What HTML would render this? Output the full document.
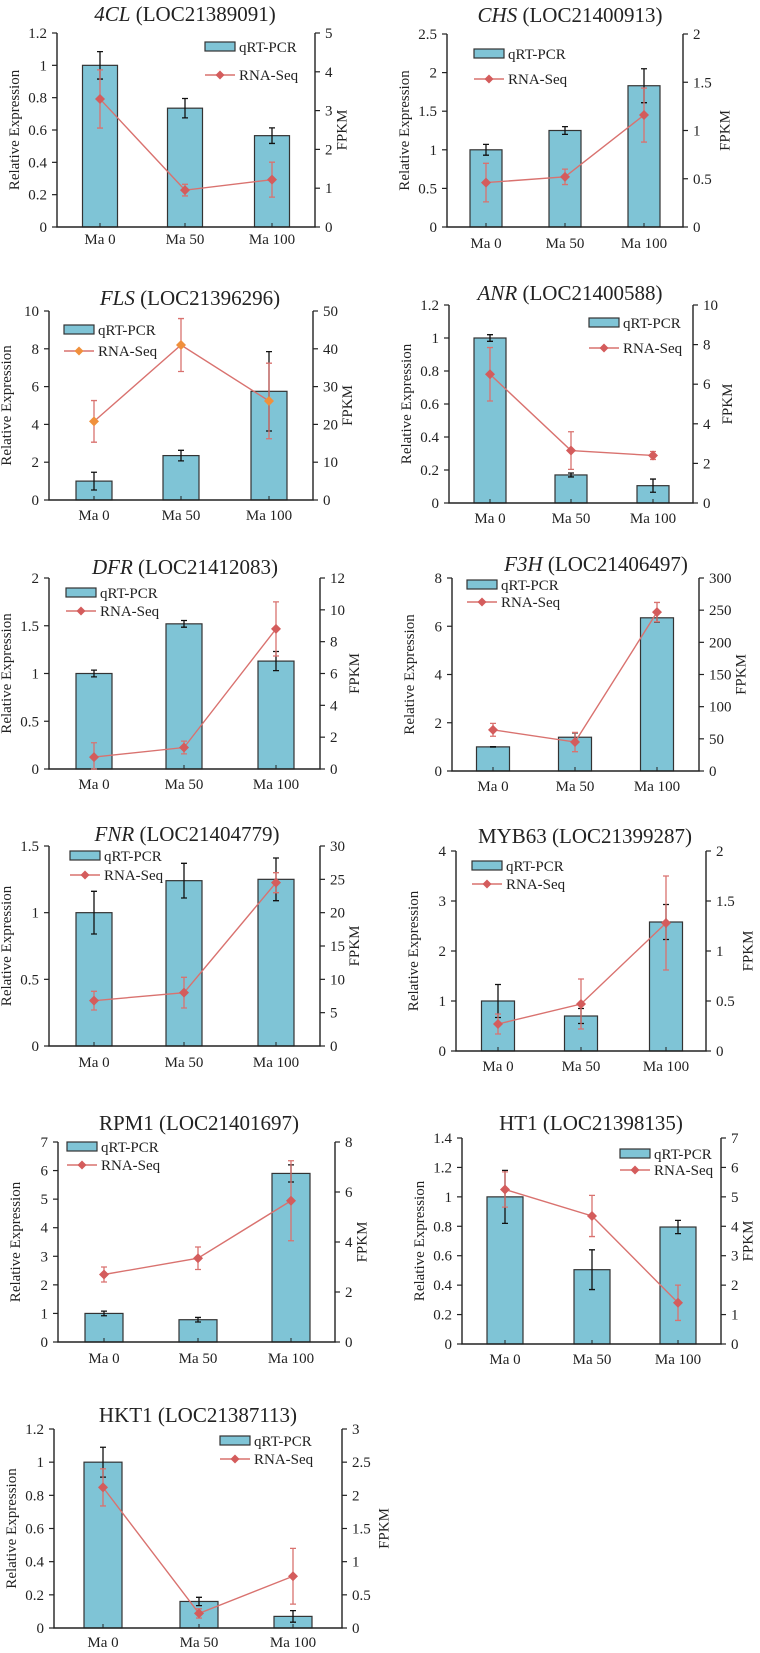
<!DOCTYPE html>
<html><head><meta charset="utf-8">
<style>
html,body{margin:0;padding:0;background:#fff;}
svg{display:block;}
text{font-family:"Liberation Serif",serif;fill:#222;}
</style></head>
<body>
<svg id="fig" width="760" height="1653" viewBox="0 0 760 1653" xmlns="http://www.w3.org/2000/svg"></svg>
<script>
const categories = ["Ma 0","Ma 50","Ma 100"];
const geneNames = ["4CL","CHS","FLS","ANR","DFR","F3H","FNR","MYB63","RPM1","HT1","HKT1"];
const geneItalic = [true,true,true,true,true,true,true,false,false,false,false];
const locIds = ["LOC21389091","LOC21400913","LOC21396296","LOC21400588","LOC21412083","LOC21406497","LOC21404779","LOC21399287","LOC21401697","LOC21398135","LOC21387113"];
const leftMax = [1.2,2.5,10,1.2,2,8,1.5,4,7,1.4,1.2];
const leftStep = [0.2,0.5,2,0.2,0.5,2,0.5,1,1,0.2,0.2];
const rightMax = [5,2,50,10,12,300,30,2,8,7,3];
const rightStep = [1,0.5,10,2,2,50,5,0.5,2,1,0.5];
const qpcrValues = [[1,0.735,0.565],[1,1.25,1.83],[1,2.35,5.75],[1,0.17,0.105],[1,1.52,1.13],[1,1.4,6.35],[1,1.24,1.25],[1,0.7,2.58],[1,0.78,5.9],[1,0.505,0.795],[1,0.16,0.07]];
const qpcrErrors = [[0.085,0.06,0.048],[0.07,0.05,0.22],[0.47,0.28,2.1],[0.02,0.012,0.04],[0.035,0.035,0.1],[0.01,0.18,0.18],[0.16,0.13,0.16],[0.33,0.15,0.35],[0.08,0.08,0.3],[0.18,0.135,0.045],[0.09,0.025,0.035]];
const fpkmValues = [[3.3,0.95,1.22],[0.46,0.52,1.16],[20.8,41,26.2],[6.5,2.65,2.4],[0.75,1.35,8.8],[64,45,247],[6.8,8,24.5],[0.27,0.47,1.28],[2.7,3.35,5.65],[5.25,4.35,1.4],[2.12,0.22,0.78]];
const fpkmErrors = [[0.75,0.15,0.45],[0.2,0.08,0.28],[5.5,7,10],[1.35,0.95,0.2],[0.9,0.4,1.7],[10,15,15],[1.4,2.3,1.5],[0.1,0.25,0.47],[0.3,0.45,1.6],[0.6,0.7,0.6],[0.28,0.07,0.42]];

const layout = [
 {l:57,r:315,t:33,b:227,bx:[100,185,272],bw:17.5,tx:185,ty:21,lx:205,ly:42,lly:75,xy:248},
 {l:447,r:683,t:34,b:227,bx:[486,565,644],bw:16,tx:570,ty:22,lx:474,ly:49,lly:79,xy:252},
 {l:49,r:313,t:311,b:500,bx:[94,181,269],bw:18,tx:190,ty:305,lx:64,ly:325,lly:351,xy:524},
 {l:449,r:693,t:305,b:503,bx:[490,571,653],bw:16,tx:570,ty:300,lx:589,ly:318,lly:348,xy:527},
 {l:49,r:320,t:578,b:769,bx:[94,184,276],bw:18,tx:185,ty:574,lx:66,ly:588,lly:611,xy:793},
 {l:452,r:699,t:578,b:771,bx:[493,575,657],bw:16.5,tx:596,ty:571,lx:467,ly:580,lly:602,xy:795},
 {l:49,r:320,t:846,b:1046,bx:[94,184,276],bw:18,tx:187,ty:841,lx:70,ly:851,lly:875,xy:1071},
 {l:456,r:706,t:851,b:1051,bx:[498,581,666],bw:16.5,tx:585,ty:843,lx:472,ly:861,lly:884,xy:1075},
 {l:58,r:335,t:1142,b:1342,bx:[104,198,291],bw:19,tx:199,ty:1130,lx:67,ly:1142,lly:1165,xy:1367},
 {l:462,r:721,t:1138,b:1344,bx:[505,592,678],bw:18,tx:591,ty:1130,lx:620,ly:1149,lly:1170,xy:1368},
 {l:54,r:342,t:1429,b:1628,bx:[103,199,293],bw:19,tx:198,ty:1422,lx:220,ly:1436,lly:1459,xy:1651}
];
const NS = "http://www.w3.org/2000/svg";
const svg = document.getElementById("fig");
function el(tag, attrs, parent){const e=document.createElementNS(NS,tag);for(const k in attrs)e.setAttribute(k,attrs[k]);(parent||svg).appendChild(e);return e;}
function fmt(v){return String(Math.round(v*100)/100);}
const BAR="#7fc4d6", LINE="#d9726f", MARK="#d45c5c";

for(let p=0;p<geneNames.length;p++){
  const L=layout[p];
  const g=el("g",{});
  
  
  const yL=v=>L.b-(v/leftMax[p])*(L.b-L.t);
  const yR=v=>L.b-(v/rightMax[p])*(L.b-L.t);
  const tt=el("text",{x:L.tx,y:L.ty,"text-anchor":"middle","font-size":"21"},g);
  
  
  const t1=el("tspan",{"font-style":geneItalic[p]?"italic":"normal"},tt); t1.textContent=geneNames[p];
  const t2=el("tspan",{},tt); t2.textContent=" ("+locIds[p]+")";
  for(let i=0;i<3;i++){
    const y=yL(qpcrValues[p][i]);
    const r=el("rect",{x:L.bx[i]-L.bw,y:y,width:2*L.bw,height:L.b-y,fill:BAR,stroke:"#333","stroke-width":"1.2"},g);
    
    
    const e1=yL(qpcrValues[p][i]+qpcrErrors[p][i]), e2=yL(qpcrValues[p][i]-qpcrErrors[p][i]);
    const eb=el("path",{d:`M${L.bx[i]},${e1}V${e2}M${L.bx[i]-3},${e1}H${L.bx[i]+3}M${L.bx[i]-3},${e2}H${L.bx[i]+3}`,stroke:"#111","stroke-width":"1.3",fill:"none"},g);
    
    
  }
  const ax=el("path",{d:`M${L.l},${L.t}V${L.b}H${L.r}V${L.t}`,stroke:"#222","stroke-width":"1.4",fill:"none"},g);
  
  
  const nl=Math.round(leftMax[p]/leftStep[p]);
  for(let k=0;k<=nl;k++){
    const v=k*leftStep[p], y=yL(v);
    el("line",{x1:L.l-5,x2:L.l,y1:y,y2:y,stroke:"#222","stroke-width":"1.2"},g);
    const tl=el("text",{x:L.l-10,y:y+5,"text-anchor":"end","font-size":"15"},g);
    
    
    tl.textContent=fmt(v);
  }
  const nr=Math.round(rightMax[p]/rightStep[p]);
  let maxLen=1;
  for(let k=0;k<=nr;k++){
    const v=k*rightStep[p], y=yR(v);
    maxLen=Math.max(maxLen,fmt(v).length);
    el("line",{x1:L.r,x2:L.r+5,y1:y,y2:y,stroke:"#222","stroke-width":"1.2"},g);
    const tr=el("text",{x:L.r+10,y:y+5,"text-anchor":"start","font-size":"15"},g);
    
    
    tr.textContent=fmt(v);
  }
  for(let i=0;i<3;i++){
    el("line",{x1:L.bx[i],x2:L.bx[i],y1:L.b,y2:L.b-4,stroke:"#222","stroke-width":"1"},g);
    const xl=el("text",{x:L.bx[i],y:L.xy-4,"text-anchor":"middle","font-size":"15"},g);
    
    
    xl.textContent=categories[i];
  }
  const cy=(L.t+L.b)/2;
  const yt=el("text",{x:0,y:0,transform:`translate(${L.l-38},${cy}) rotate(-90)`,"text-anchor":"middle","font-size":"15"},g);
  
  
  yt.textContent="Relative Expression";
  const y2t=el("text",{x:0,y:0,transform:`translate(${L.r+24+maxLen*7.5},${cy}) rotate(-90)`,"text-anchor":"middle","font-size":"15"},g);
  
  
  y2t.textContent="FPKM";
  let d="";
  for(let i=0;i<3;i++){d+=(i?"L":"M")+L.bx[i]+","+yR(fpkmValues[p][i]);}
  const ln=el("path",{d:d,stroke:LINE,"stroke-width":"1.4",fill:"none"},g);
  
  
  const mk = p===2 ? "#f0903c" : MARK;
  for(let i=0;i<3;i++){
    const x=L.bx[i], y=yR(fpkmValues[p][i]);
    const e1=yR(fpkmValues[p][i]+fpkmErrors[p][i]), e2=yR(Math.max(0,fpkmValues[p][i]-fpkmErrors[p][i]));
    const le=el("path",{d:`M${x},${e1}V${e2}M${x-3},${e1}H${x+3}M${x-3},${e2}H${x+3}`,stroke:LINE,"stroke-width":"1.3",fill:"none"},g);
    
    
    const m=el("path",{d:`M${x},${y-5}L${x+5},${y}L${x},${y+5}L${x-5},${y}Z`,fill:mk},g);
    
    
  }
  const lg=el("g",{},g);
  
  
  el("rect",{x:L.lx,y:L.ly,width:30,height:9,fill:BAR,stroke:"#333","stroke-width":"1.2"},lg);
  const l1=el("text",{x:L.lx+34,y:L.ly+10,"font-size":"15"},lg); l1.textContent="qRT-PCR";
  el("line",{x1:L.lx,x2:L.lx+30,y1:L.lly,y2:L.lly,stroke:LINE,"stroke-width":"1.4"},lg);
  const mx=L.lx+15;
  el("path",{d:`M${mx},${L.lly-4.5}L${mx+4.5},${L.lly}L${mx},${L.lly+4.5}L${mx-4.5},${L.lly}Z`,fill:mk},lg);
  const l2=el("text",{x:L.lx+34,y:L.lly+5,"font-size":"15"},lg); l2.textContent="RNA-Seq";
}
</script>
</body></html>
